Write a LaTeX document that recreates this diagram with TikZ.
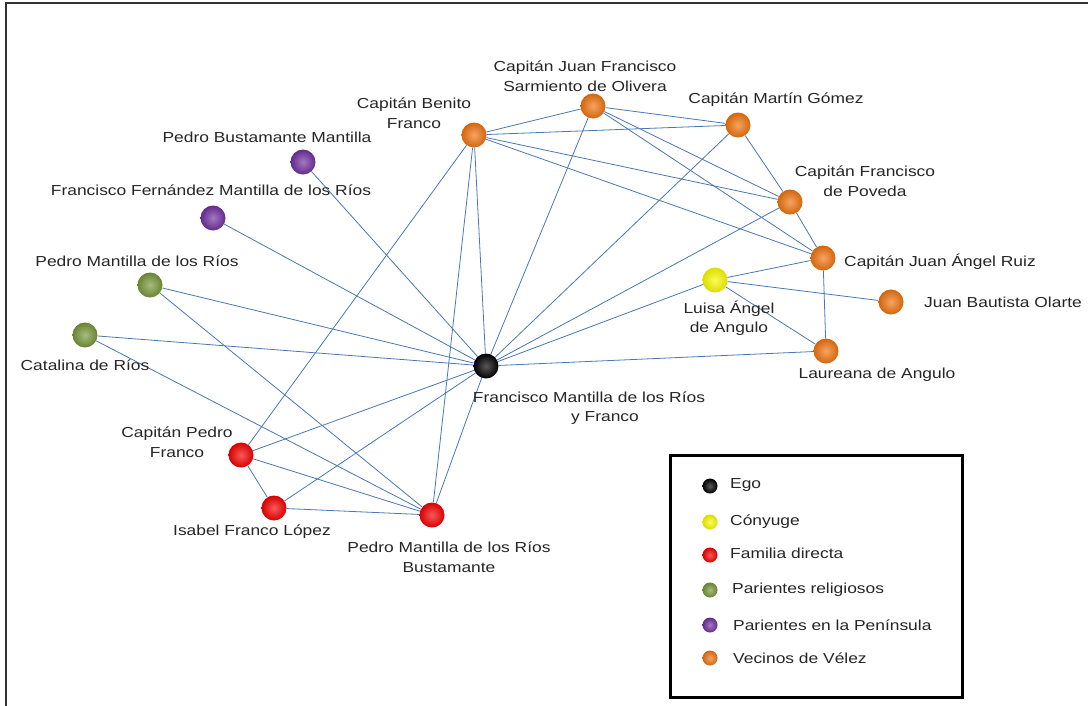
\documentclass[tikz,border=0pt]{standalone}
\usepackage{fontspec}
\setmainfont{Liberation Sans}[FakeStretch=1.2]
\definecolor{vorange}{RGB}{240,115,15}
\definecolor{vred}{RGB}{245,0,0}
\definecolor{vgreen}{RGB}{119,150,58}
\definecolor{vpurple}{RGB}{112,48,160}
\definecolor{vyellow}{RGB}{250,250,0}
\definecolor{edgeblue}{RGB}{74,120,180}
\begin{document}
\begin{tikzpicture}[x=1pt,y=-1pt,
  ball/.style={circle, inner sep=0pt, minimum size=25pt, shading=radial,
    inner color=#1!65!white, outer color=#1!88!black},
  keyball/.style={ball=#1, minimum size=15pt},
  lbl/.style={font=\fontsize{14.5}{19.5}\selectfont, align=center, inner sep=0pt, text=black!85},
  keytext/.style={lbl, anchor=west},
  edge/.style={draw=edgeblue, line width=0.8pt}]
\useasboundingbox (0,0) rectangle (1088,705);
\fill[white] (0,0) rectangle (1088,705);
% page frame (left and top edges)
\draw[line width=2pt, black!80] (6,712) -- (6,3) -- (1095,3);

% people
\node[ball=black]   (ego)      at (486,366) {};
\node[ball=vorange] (benito)   at (474,135) {};
\node[ball=vorange] (sarm)     at (593,106) {};
\node[ball=vorange] (martin)   at (738,125) {};
\node[ball=vorange] (poveda)   at (790,202) {};
\node[ball=vorange] (ruiz)     at (823,258) {};
\node[ball=vyellow] (luisa)    at (715,280) {};
\node[ball=vorange] (olarte)   at (891,302) {};
\node[ball=vorange] (laureana) at (826,351) {};
\node[ball=vpurple] (pbm)      at (303,162) {};
\node[ball=vpurple] (ffm)      at (213,218) {};
\node[ball=vgreen]  (pmr)      at (150,285) {};
\node[ball=vgreen]  (cat)      at (85,335) {};
\node[ball=vred]    (ppf)      at (241,455) {};
\node[ball=vred]    (isa)      at (274,508) {};
\node[ball=vred]    (pmb)      at (432,515) {};

% ties of Ego
\foreach \n in {benito,sarm,martin,poveda,luisa,laureana,pbm,ffm,pmr,cat,ppf,isa,pmb}
  \draw[edge] (ego) -- (\n);
% other ties
\draw[edge] (benito) -- (sarm);
\draw[edge] (benito) -- (martin);
\draw[edge] (benito) -- (poveda);
\draw[edge] (benito) -- (ruiz);
\draw[edge] (benito) -- (ppf);
\draw[edge] (benito) -- (pmb);
\draw[edge] (sarm) -- (martin);
\draw[edge] (sarm) -- (poveda);
\draw[edge] (sarm) -- (ruiz);
\draw[edge] (martin) -- (poveda);
\draw[edge] (poveda) -- (ruiz);
\draw[edge] (ruiz) -- (luisa);
\draw[edge] (ruiz) -- (laureana);
\draw[edge] (luisa) -- (olarte);
\draw[edge] (luisa) -- (laureana);
\draw[edge] (pmr) -- (pmb);
\draw[edge] (cat) -- (pmb);
\draw[edge] (ppf) -- (isa);
\draw[edge] (ppf) -- (pmb);
\draw[edge] (isa) -- (pmb);

% names
\node[lbl] (sarm-l)     at (585,76)  {Capitán Juan Francisco\\Sarmiento de Olivera};
\node[lbl] (benito-l)   at (414,113) {Capitán Benito\\Franco};
\node[lbl] (martin-l)   at (776,100) {Capitán Martín Gómez};
\node[lbl] (pbm-l)      at (267,137) {Pedro Bustamante Mantilla};
\node[lbl] (ffm-l)      at (211,190) {Francisco Fernández Mantilla de los Ríos};
\node[lbl] (pmr-l)      at (137,261) {Pedro Mantilla de los Ríos};
\node[lbl] (cat-l)      at (85,365)  {Catalina de Ríos};
\node[lbl] (poveda-l)   at (865,181) {Capitán Francisco\\de Poveda};
\node[lbl] (ruiz-l)     at (940,262) {Capitán Juan Ángel Ruiz};
\node[lbl] (olarte-l)   at (1003,302) {Juan Bautista Olarte};
\node[lbl] (luisa-l)    at (729,318) {Luisa Ángel\\de Angulo};
\node[lbl] (laureana-l) at (877,375) {Laureana de Angulo};
\node[lbl] (ego-l)      at (589,408) {Francisco Mantilla de los Ríos\\\hspace*{32pt}y Franco};
\node[lbl] (ppf-l)      at (177,442) {Capitán Pedro\\Franco};
\node[lbl] (isa-l)      at (252,532) {Isabel Franco López};
\node[lbl] (pmb-l)      at (449,557) {Pedro Mantilla de los Ríos\\Bustamante};

% key
\node[draw=black, line width=3pt, minimum width=292pt, minimum height=242pt, inner sep=0pt] (key) at (816,576) {};
\node[keyball=black]   (k1) at (710,486) {};
\node[keyball=vyellow] (k2) at (710,522) {};
\node[keyball=vred]    (k3) at (710,555) {};
\node[keyball=vgreen]  (k4) at (710,590) {};
\node[keyball=vpurple] (k5) at (710,625) {};
\node[keyball=vorange] (k6) at (710,658) {};
\node[keytext] (t1) at (730,485) {Ego};
\node[keytext] (t2) at (730,522) {Cónyuge};
\node[keytext] (t3) at (730,553) {Familia directa};
\node[keytext] (t4) at (732,590) {Parientes religiosos};
\node[keytext] (t5) at (733,625) {Parientes en la Península};
\node[keytext] (t6) at (733,658) {Vecinos de Vélez};
\end{tikzpicture}
\end{document}
